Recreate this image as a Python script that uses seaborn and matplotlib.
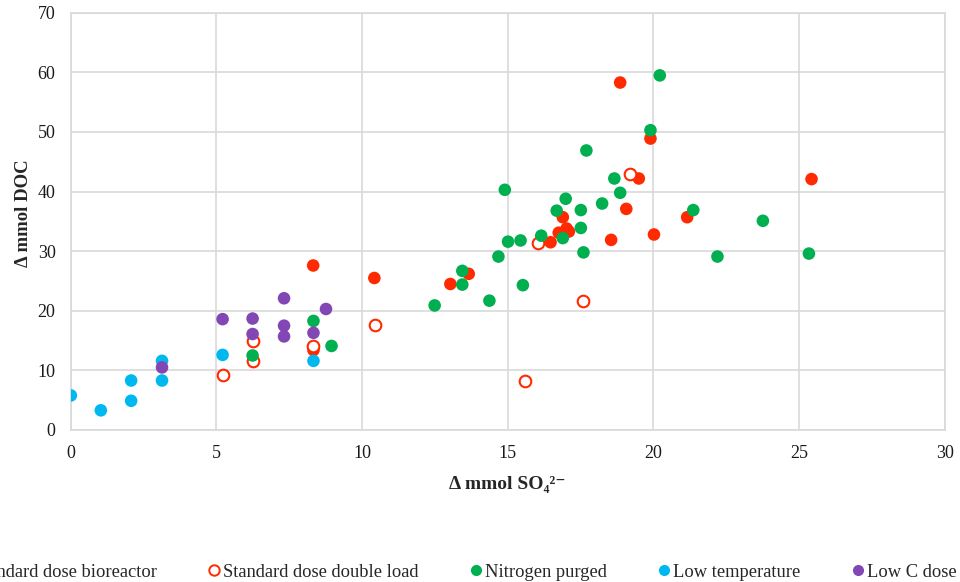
import matplotlib
matplotlib.use("Agg")

import matplotlib.pyplot as plt
import pandas as pd
import seaborn as sns
from matplotlib.lines import Line2D

# values, x = delta mmol SO4, y = delta mmol DOC
bioreactor_x = [8.32, 8.33, 10.42, 13.03, 13.66, 16.47, 16.75, 16.89, 17.02, 17.10,
                18.55, 19.07, 19.50, 20.02, 21.16, 18.86, 19.90, 25.43]
bioreactor_y = [27.6, 13.4, 25.5, 24.5, 26.2, 31.5, 33.1, 35.7, 33.8, 33.3,
                31.9, 37.1, 42.2, 32.8, 35.7, 58.3, 48.9, 42.1]

double_load_x = [5.21, 6.24, 6.24, 8.33, 10.43, 16.04, 17.60, 15.60, 19.19]
double_load_y = [9.2, 15.0, 11.6, 14.1, 17.6, 31.4, 21.7, 8.2, 42.9]

nitrogen_x = [6.24, 8.33, 8.95, 12.49, 13.44, 13.44, 14.37, 14.68, 14.90, 15.01,
              15.44, 15.52, 16.15, 16.68, 16.89, 16.99, 17.51, 17.51, 17.60, 18.24,
              18.66, 18.86, 21.37, 20.22, 19.90, 23.76, 22.20, 25.34, 17.70]
nitrogen_y = [12.5, 18.3, 14.1, 20.9, 26.7, 24.4, 21.7, 29.1, 40.3, 31.6,
              31.8, 24.3, 32.6, 36.8, 32.2, 38.8, 36.9, 33.9, 29.8, 38.0,
              42.2, 39.8, 36.9, 59.5, 50.3, 35.1, 29.1, 29.6, 46.9]

low_temp_x = [0.0, 1.03, 2.07, 2.07, 3.13, 3.13, 5.21, 8.33]
low_temp_y = [5.8, 3.3, 8.3, 4.9, 11.6, 8.3, 12.6, 11.6]

low_c_x = [3.13, 5.21, 6.24, 6.24, 7.32, 7.32, 7.32, 8.33, 8.76]
low_c_y = [10.5, 18.6, 18.7, 16.1, 22.1, 17.5, 15.7, 16.3, 20.3]

series_names = ["Standard dose bioreactor", "Standard dose double load",
                "Nitrogen purged", "Low temperature", "Low C dose"]
series_colors = ["#FF2A00", "#FF2A00", "#00B050", "#00B8F0", "#8347B5"]
x_ticks = [0, 5, 10, 15, 20, 25, 30]
y_ticks = [0, 10, 20, 30, 40, 50, 60, 70]

sns.set_theme(style="whitegrid")
plt.rcParams["font.family"] = ["Liberation Serif", "DejaVu Serif"]

df = pd.concat([
    pd.DataFrame({"x": xs, "y": ys, "series": name})
    for name, xs, ys in zip(
        series_names,
        [bioreactor_x, double_load_x, nitrogen_x, low_temp_x, low_c_x],
        [bioreactor_y, double_load_y, nitrogen_y, low_temp_y, low_c_y],
    )
], ignore_index=True)

fig = plt.figure(figsize=(9.6, 5.82), dpi=100)
ax = fig.add_axes([0.0738, 0.2612, 0.9102, 0.7168])

handles = []
for i, (name, color) in enumerate(zip(series_names, series_colors)):
    sub = df[df["series"] == name]
    hollow = name == "Standard dose double load"
    sns.scatterplot(
        data=sub, x="x", y="y", ax=ax,
        s=70 if hollow else 82,
        color="white" if hollow else color,
        edgecolor=color if hollow else "none",
        linewidth=1.5 if hollow else 0,
        zorder=3 + i,
        legend=False,
    )
    handles.append(Line2D(
        [], [], ls="none", marker="o", markersize=7.5 if hollow else 8,
        markerfacecolor="white" if hollow else color,
        markeredgecolor=color, markeredgewidth=1.4 if hollow else 0,
        label=name,
    ))

ax.set_xlim(0, 30)
ax.set_ylim(0, 70)
ax.set_xticks(x_ticks)
ax.set_yticks(y_ticks)
ax.grid(True, color="#D9D9D9", linewidth=1.2)
for sp in ax.spines.values():
    sp.set_color("#D9D9D9")
    sp.set_linewidth(1.2)
ax.tick_params(length=0, labelsize=13, colors="#1a1a1a")
ax.tick_params(axis="y", pad=11)
ax.tick_params(axis="x", pad=11)

ax.set_xlabel("Δ mmol SO₄²⁻", fontsize=14, fontweight="bold", labelpad=10)
ax.set_ylabel("Δ mmol DOC", fontsize=13.5, fontweight="bold")
ax.yaxis.set_label_coords(-0.045, 0.52)

# first entry runs off the left edge, as in the original export
fig.legend(
    handles=handles, ncol=5, loc="center left",
    bbox_to_anchor=(-0.044, 0.017), frameon=False, fontsize=13.3,
    handlelength=0.6, handletextpad=0.2, columnspacing=2.8,
    borderaxespad=0, borderpad=0,
)

fig.savefig("out.png", dpi=100)
